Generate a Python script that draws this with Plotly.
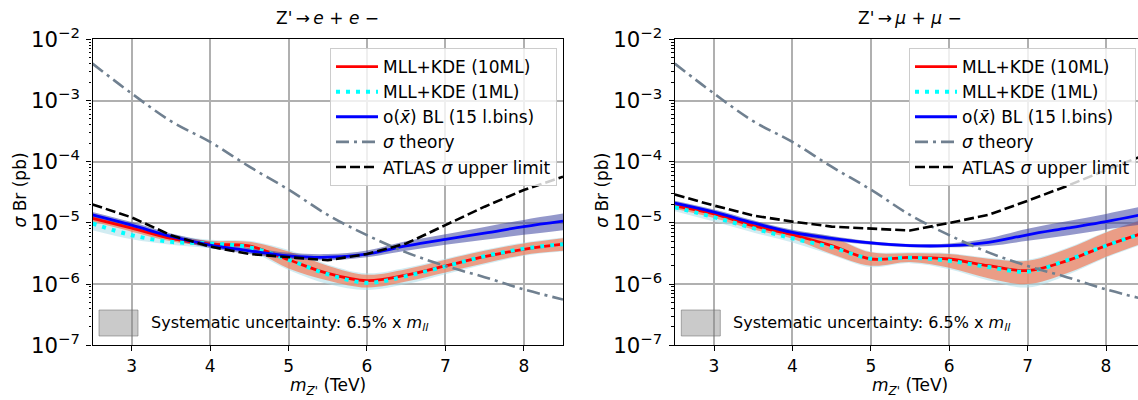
import plotly.graph_objects as go

# Z' mass points (TeV)
mass = [2.5, 3.0, 3.5, 4.0, 4.5, 5.0, 5.5, 6.0, 6.5, 7.0, 7.5, 8.0, 8.5]

# Theory cross section x BR (pb), same for both channels
sigma_theory = [4.0e-3, 1.3e-3, 4.6e-4, 2.1e-4, 8.3e-5, 3.5e-5, 1.35e-5, 6.3e-6,
                3.3e-6, 1.98e-6, 1.3e-6, 8.2e-7, 5.6e-7]

# ---- Z' -> e+ e- ----
ee_mll10 = [1.19e-5, 8.2e-6, 5.6e-6, 4.5e-6, 4.2e-6, 2.5e-6, 1.5e-6, 1.14e-6,
            1.4e-6, 1.98e-6, 2.8e-6, 3.7e-6, 4.5e-6]
ee_mll10_hi = [1.3e-5, 9.0e-6, 6.2e-6, 5.1e-6, 4.9e-6, 3.4e-6, 2.0e-6, 1.42e-6,
               1.75e-6, 2.5e-6, 3.5e-6, 4.6e-6, 5.6e-6]
ee_mll10_lo = [1.05e-5, 7.2e-6, 5.0e-6, 4.1e-6, 3.7e-6, 1.8e-6, 1.15e-6, 0.88e-6,
               1.1e-6, 1.55e-6, 2.2e-6, 3.0e-6, 3.5e-6]
ee_mll1 = [9.8e-6, 6.3e-6, 4.9e-6, 4.6e-6, 4.0e-6, 2.5e-6, 1.45e-6, 1.05e-6,
           1.35e-6, 1.95e-6, 2.85e-6, 3.8e-6, 4.5e-6]
ee_mll1_hi = [1.35e-5, 9.3e-6, 6.5e-6, 5.3e-6, 5.1e-6, 3.6e-6, 2.1e-6, 1.5e-6,
              1.85e-6, 2.6e-6, 3.65e-6, 4.8e-6, 5.8e-6]
ee_mll1_lo = [7.6e-6, 5.4e-6, 4.4e-6, 3.9e-6, 3.4e-6, 1.7e-6, 1.0e-6, 0.8e-6,
              1.0e-6, 1.45e-6, 2.1e-6, 2.9e-6, 3.4e-6]
ee_bl = [1.35e-5, 9.2e-6, 6.0e-6, 4.35e-6, 3.5e-6, 2.9e-6, 2.75e-6, 3.1e-6,
         4.2e-6, 5.4e-6, 6.8e-6, 8.7e-6, 1.07e-5]
ee_bl_hi = [1.51e-5, 1.03e-5, 6.7e-6, 4.9e-6, 3.9e-6, 3.25e-6, 3.1e-6, 3.55e-6,
            5.0e-6, 6.5e-6, 8.6e-6, 1.12e-5, 1.42e-5]
ee_bl_lo = [1.2e-5, 8.2e-6, 5.35e-6, 3.9e-6, 3.1e-6, 2.6e-6, 2.45e-6, 2.75e-6,
            3.5e-6, 4.4e-6, 5.3e-6, 6.4e-6, 7.6e-6]
ee_atlas = [2.0e-5, 1.23e-5, 6.3e-6, 4.1e-6, 3.1e-6, 2.74e-6, 2.45e-6, 3.1e-6,
            4.6e-6, 9.2e-6, 1.84e-5, 3.45e-5, 5.7e-5]

# ---- Z' -> mu+ mu- ----
mm_mll10 = [1.9e-5, 1.4e-5, 9.0e-6, 6.4e-6, 4.25e-6, 2.57e-6, 2.74e-6, 2.57e-6,
            2.0e-6, 1.66e-6, 2.4e-6, 4.25e-6, 7.0e-6]
mm_mll10_hi = [2.1e-5, 1.55e-5, 1.03e-5, 7.3e-6, 5.8e-6, 3.3e-6, 3.2e-6, 3.1e-6,
               2.6e-6, 2.4e-6, 3.75e-6, 7.0e-6, 1.16e-5]
mm_mll10_lo = [1.7e-5, 1.2e-5, 7.8e-6, 5.5e-6, 3.1e-6, 2.0e-6, 2.3e-6, 1.85e-6,
               1.25e-6, 1.0e-6, 1.5e-6, 2.8e-6, 4.8e-6]
mm_mll1 = [1.8e-5, 1.24e-5, 8.2e-6, 5.6e-6, 4.0e-6, 2.6e-6, 2.7e-6, 2.4e-6,
           1.9e-6, 1.6e-6, 2.45e-6, 4.25e-6, 7.0e-6]
mm_mll1_hi = [2.15e-5, 1.6e-5, 1.06e-5, 7.5e-6, 6.0e-6, 3.4e-6, 3.3e-6, 3.2e-6,
              2.7e-6, 2.5e-6, 3.9e-6, 7.2e-6, 1.2e-5]
mm_mll1_lo = [1.55e-5, 1.05e-5, 7.0e-6, 4.8e-6, 3.0e-6, 1.9e-6, 2.2e-6, 1.75e-6,
              1.15e-6, 0.88e-6, 1.4e-6, 2.7e-6, 4.6e-6]
mm_bl = [2.1e-5, 1.5e-5, 1.0e-5, 7.0e-6, 5.6e-6, 4.7e-6, 4.25e-6, 4.25e-6,
         4.8e-6, 6.4e-6, 8.2e-6, 1.05e-5, 1.4e-5]
mm_bl_hi = [2.3e-5, 1.65e-5, 1.1e-5, 7.7e-6, 6.1e-6, 5.0e-6, 4.5e-6, 4.6e-6,
            5.6e-6, 8.0e-6, 1.06e-5, 1.4e-5, 1.9e-5]
mm_bl_lo = [1.9e-5, 1.36e-5, 9.0e-6, 6.4e-6, 5.1e-6, 4.4e-6, 4.0e-6, 4.0e-6,
            4.2e-6, 5.1e-6, 6.2e-6, 7.8e-6, 9.6e-6]
mm_atlas = [2.9e-5, 1.92e-5, 1.32e-5, 1.05e-5, 8.7e-6, 8.0e-6, 7.5e-6, 1.0e-5,
            1.35e-5, 2.3e-5, 4.0e-5, 7.3e-5, 1.3e-4]

FONT = "DejaVu Sans"
W, H = 1138, 400

CYAN_BAND = "rgba(173,220,232,0.55)"
RED_BAND = "rgba(242,126,92,0.72)"
BLUE_BAND = "rgba(60,68,160,0.55)"

fig = go.Figure()


def add_band(lo, hi, color, xa, ya):
    fig.add_trace(go.Scatter(x=mass, y=lo, mode="lines", line=dict(width=0, shape="spline"),
                             showlegend=False, hoverinfo="skip", xaxis=xa, yaxis=ya))
    fig.add_trace(go.Scatter(x=mass, y=hi, mode="lines", line=dict(width=0, shape="spline"),
                             fill="tonexty", fillcolor=color, showlegend=False,
                             hoverinfo="skip", xaxis=xa, yaxis=ya))


def add_channel(d, xa, ya, legend):
    add_band(d["mll1_lo"], d["mll1_hi"], CYAN_BAND, xa, ya)
    add_band(d["mll10_lo"], d["mll10_hi"], RED_BAND, xa, ya)
    add_band(d["bl_lo"], d["bl_hi"], BLUE_BAND, xa, ya)
    fig.add_trace(go.Scatter(x=mass, y=d["mll10"], mode="lines", name="MLL+KDE (10ML)",
                             line=dict(color="#ff0000", width=2.8, shape="spline"),
                             xaxis=xa, yaxis=ya, legend=legend))
    fig.add_trace(go.Scatter(x=mass, y=d["mll1"], mode="lines", name="MLL+KDE (1ML)",
                             line=dict(color="#00ffff", width=4, dash="4px,6px", shape="spline"),
                             xaxis=xa, yaxis=ya, legend=legend))
    fig.add_trace(go.Scatter(x=mass, y=d["bl"], mode="lines",
                             name="o(<i>x̄</i>) BL (15 l.bins)",
                             line=dict(color="#0000ff", width=2.8, shape="spline"),
                             xaxis=xa, yaxis=ya, legend=legend))
    fig.add_trace(go.Scatter(x=mass, y=sigma_theory, mode="lines", name="<i>σ</i> theory",
                             line=dict(color="#708090", width=2.6, dash="13px,5px,3px,5px",
                                       shape="spline"),
                             xaxis=xa, yaxis=ya, legend=legend))
    fig.add_trace(go.Scatter(x=mass, y=d["atlas"], mode="lines",
                             name="ATLAS <i>σ</i> upper limit",
                             line=dict(color="#000000", width=2.6, dash="10px,4px"),
                             xaxis=xa, yaxis=ya, legend=legend))


add_channel(dict(mll10=ee_mll10, mll10_lo=ee_mll10_lo, mll10_hi=ee_mll10_hi,
                 mll1=ee_mll1, mll1_lo=ee_mll1_lo, mll1_hi=ee_mll1_hi,
                 bl=ee_bl, bl_lo=ee_bl_lo, bl_hi=ee_bl_hi, atlas=ee_atlas),
            "x", "y", "legend")
add_channel(dict(mll10=mm_mll10, mll10_lo=mm_mll10_lo, mll10_hi=mm_mll10_hi,
                 mll1=mm_mll1, mll1_lo=mm_mll1_lo, mll1_hi=mm_mll1_hi,
                 bl=mm_bl, bl_lo=mm_bl_lo, bl_hi=mm_bl_hi, atlas=mm_atlas),
            "x2", "y2", "legend2")

# axis placement in pixels
PX_PER_TEV = 78.4
left_x0, left_x1 = 92.5, 563.0
right_x0 = 674.8
plot_top, plot_bot = 39.3, 345.3
right_range_end = 2.5 + (W - right_x0) / PX_PER_TEV

ydom = [1 - plot_bot / H, 1 - plot_top / H]

common_x = dict(showline=True, linecolor="black", linewidth=1.3, ticks="outside",
                ticklen=5, tickcolor="black", tickwidth=1.2, showgrid=True,
                gridcolor="#b0b0b0", gridwidth=1.6, tickvals=[3, 4, 5, 6, 7, 8],
                tickfont=dict(size=17, family=FONT, color="black"), zeroline=False)
common_y = dict(type="log", range=[-7, -2], dtick=1, exponentformat="power",
                showline=True, linecolor="black", linewidth=1.3, ticks="outside",
                ticklen=5, tickcolor="black", tickwidth=1.2, showgrid=True,
                gridcolor="#b0b0b0", gridwidth=1.6, ticklabelstandoff=3,
                tickfont=dict(size=17, family=FONT, color="black"), zeroline=False,
                minor=dict(ticks="outside", ticklen=2.5, tickcolor="black",
                           tickwidth=0.8, dtick="D1", showgrid=False))

legend_common = dict(bgcolor="rgba(255,255,255,0.8)", bordercolor="#cccccc",
                     borderwidth=1, font=dict(size=17, family=FONT, color="black"),
                     xanchor="left", yanchor="top", traceorder="normal",
                     itemwidth=42)

fig.update_layout(
    width=W, height=H,
    margin=dict(l=0, r=0, t=0, b=0, autoexpand=False),
    paper_bgcolor="white", plot_bgcolor="white",
    font=dict(family=FONT, color="black", size=17),
    xaxis=dict(domain=[left_x0 / W, left_x1 / W], range=[2.5, 8.5], anchor="y",
               mirror=True, **common_x),
    yaxis=dict(domain=ydom, anchor="x", mirror=True, **common_y),
    xaxis2=dict(domain=[right_x0 / W, 1.0], range=[2.5, right_range_end], anchor="y2",
                mirror=True, **common_x),
    yaxis2=dict(domain=ydom, anchor="x2", mirror=False, **common_y),
    legend=dict(x=330 / W, y=1 - 48 / H, **legend_common),
    legend2=dict(x=909 / W, y=1 - 48 / H, **legend_common),
)

# panel titles and axis labels
titles = [("Z'\u2009→\u2009<i>e</i> + <i>e</i> −", (left_x0 + left_x1) / 2),
          ("Z'\u2009→\u2009<i>μ</i> + <i>μ</i> −", right_x0 + (left_x1 - left_x0) / 2)]
for text, cx in titles:
    fig.add_annotation(text=text, x=cx / W, y=1 - 18 / H, xref="paper", yref="paper",
                       showarrow=False, xanchor="center", yanchor="middle",
                       font=dict(size=17, family=FONT))
    fig.add_annotation(text="<i>m</i><sub><i>Z'</i></sub> (TeV)", x=cx / W, y=1 - 386 / H,
                       xref="paper", yref="paper", showarrow=False,
                       xanchor="center", yanchor="middle", font=dict(size=17, family=FONT))

for ax0 in (left_x0, right_x0):
    fig.add_annotation(text="<i>σ</i> Br (pb)", x=(ax0 - 73) / W, y=1 - 190 / H,
                       xref="paper", yref="paper", showarrow=False, textangle=-90,
                       xanchor="center", yanchor="middle", font=dict(size=17, family=FONT))
    # systematic-uncertainty key
    fig.add_shape(type="rect", xref="paper", yref="paper",
                  x0=(ax0 + 6.5) / W, x1=(ax0 + 45.5) / W,
                  y0=1 - 336 / H, y1=1 - 310 / H,
                  fillcolor="rgba(128,128,128,0.42)", line=dict(color="rgba(110,110,110,0.55)", width=1))
    fig.add_annotation(text="Systematic uncertainty: 6.5% x <i>m</i><sub><i>ll</i></sub>",
                       x=(ax0 + 56) / W, y=1 - 323 / H, xref="paper", yref="paper",
                       showarrow=False, xanchor="left", yanchor="middle",
                       font=dict(size=16, family=FONT))

fig.write_html("out.html")
